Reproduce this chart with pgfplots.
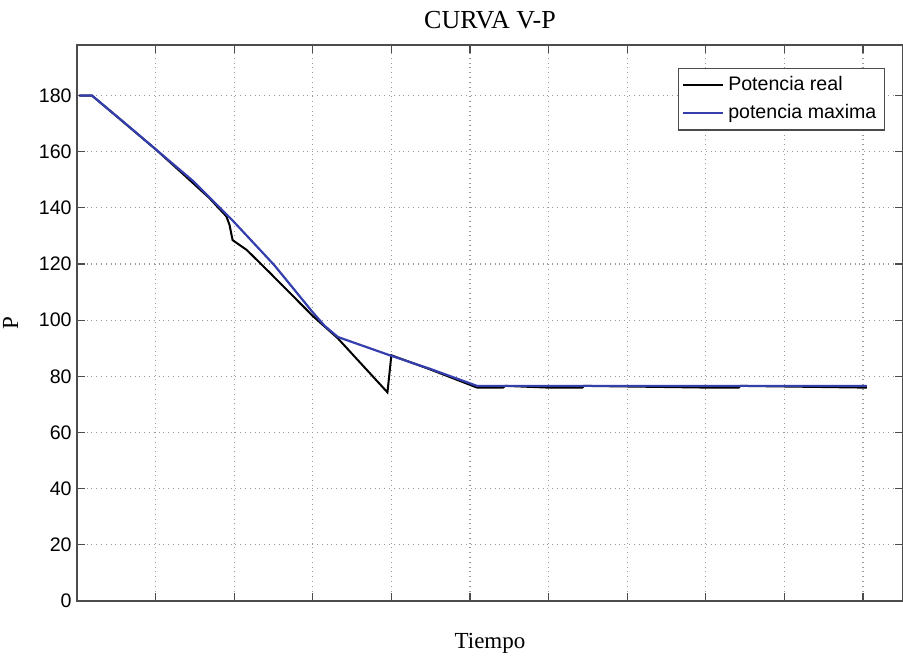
\documentclass[border=0pt]{standalone}
\usepackage{fontspec}
\setmainfont{Liberation Serif}
\newfontfamily\arial{Liberation Sans}
\usepackage{pgfplots}
\pgfplotsset{compat=1.18}
\definecolor{mblue}{RGB}{52,62,172}
\begin{document}
\begin{tikzpicture}
\useasboundingbox (-38.5pt,-28pt) rectangle (413pt,300.5pt);
\begin{axis}[
  at={(0pt,0pt)}, anchor=south west,
  scale only axis,
  width=413pt, height=278pt,
  xmin=0, xmax=10.51, ymin=0, ymax=198,
  xtick={1,2,...,10}, xticklabels={},
  ytick={0,20,...,180},
  /pgf/number format/assume math mode=true,
  yticklabel style={font=\fontsize{9.8}{11}\arial, inner sep=0pt, xshift=-2.5pt},
  tick align=inside, major tick length=4pt,
  tick style={black!70, line width=0.6pt},
  axis line style={black!70, line width=0.7pt},
  grid=major,
  major grid style={dotted, gray!80, line width=0.6pt},
  title={CURVA V-P},
  every axis title shift=0pt,
  title style={font=\fontsize{13}{15}\selectfont, at={(axis description cs:0.5,1)}, anchor=base, yshift=8pt},
  xlabel={Tiempo},
  xlabel style={font=\fontsize{11.5}{13}\selectfont, at={(axis description cs:0.5,0)}, anchor=base, yshift=-24pt},
  ylabel={P},
  ylabel style={font=\fontsize{11.5}{13}\selectfont, at={(axis description cs:-0.0714,0.5)}, anchor=base, rotate=0},
  legend style={at={(axis description cs:1,1)}, anchor=north east, xshift=-9pt, yshift=-11.5pt,
    font=\fontsize{9.8}{11}\arial, draw=black!70, line width=0.6pt, inner xsep=2pt, inner ysep=2pt,
    row sep=1.5pt},
  legend cell align=left,
  legend image code/.code={\draw[#1, line width=0.9pt] (0pt,0pt) -- (20pt,0pt);},
  clip=true,
]
\addplot[black, line width=1pt] coordinates {
(0.03,180) (0.19,180) (0.995,161) (1.30,153.3) (1.68,143.6) (1.90,137) (1.94,134) (1.98,128.5)
(2.16,125) (2.45,117) (3.0,101.5) (3.32,93.5) (3.95,74.3) (4.0,87.5) (4.49,82.5)
(5.09,76.0) (5.42,76.0) (5.45,76.6) (5.99,76.0) (6.43,76.0) (6.45,76.6)
(8.0,76.0) (8.42,76.0) (8.44,76.6) (10.0,76.0) (10.05,76.0)
};
\addlegendentry{Potencia real}
\addplot[mblue, line width=1.1pt] coordinates {
(0.03,180) (0.19,180) (0.63,169.7) (0.995,161) (1.48,149.5) (1.98,135.5) (2.51,119.6)
(3.0,102.8) (3.15,98) (3.32,94) (4.0,87.3) (4.49,82.7) (5.09,76.6) (10.05,76.6)
};
\addlegendentry{potencia maxima}
\end{axis}
\end{tikzpicture}
\end{document}
